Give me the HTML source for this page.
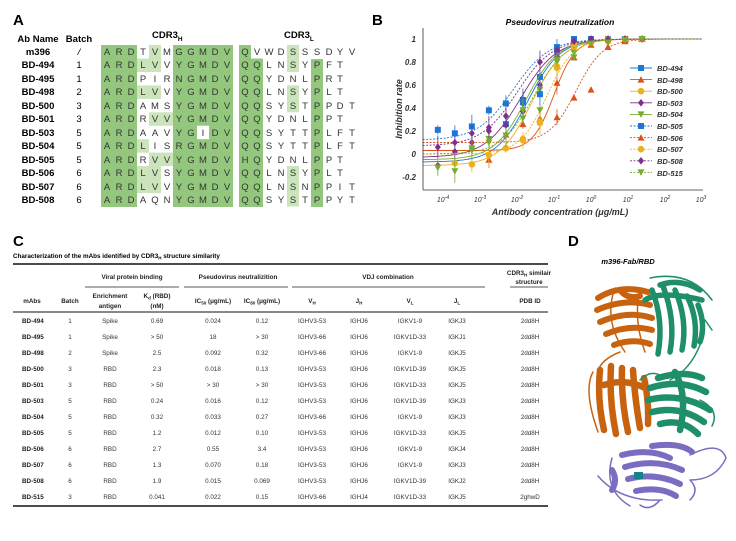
<!DOCTYPE html>
<html><head><meta charset="utf-8"><style>
html,body{margin:0;padding:0;background:#fff;}
svg{display:block;font-family:"Liberation Sans",Arial,sans-serif;}
</style></head><body>
<svg id="s" width="736" height="541" viewBox="0 0 736 541" xmlns="http://www.w3.org/2000/svg">
<rect width="736" height="541" fill="#fff"/>
<!-- Panel A -->
<text x="13" y="25" font-size="15" font-weight="bold">A</text>
<text x="38" y="42" font-size="9.5" font-weight="bold" text-anchor="middle">Ab Name</text>
<text x="79" y="42" font-size="9.5" font-weight="bold" text-anchor="middle">Batch</text>
<text x="152" y="38" font-size="9.5" font-weight="bold">CDR3<tspan font-size="6.5" dy="3">H</tspan></text>
<text x="284" y="38" font-size="9.5" font-weight="bold">CDR3<tspan font-size="6.5" dy="3">L</tspan></text>
<g fill="#93c77e">
<rect x="101" y="45" width="36" height="162"/>
<rect x="173" y="45" width="60" height="162"/>
<rect x="239" y="45" width="24" height="162"/>
<rect x="311" y="59" width="12" height="148"/>
</g>
<g fill="#cbe4bb">
<rect x="149" y="45" width="12" height="13.5"/>
<rect x="137" y="58.5" width="24" height="13.5"/>
<rect x="137" y="85.4" width="24" height="13.5"/>
<rect x="149" y="112.3" width="24" height="13.5"/>
<rect x="137" y="139.2" width="12" height="13.5"/>
<rect x="149" y="152.6" width="24" height="13.5"/>
<rect x="137" y="166" width="24" height="13.5"/>
<rect x="137" y="179.5" width="24" height="13.5"/>
<rect x="287" y="45" width="12" height="13.5"/>
<rect x="287" y="58.5" width="12" height="13.5"/>
<rect x="287" y="85.4" width="12" height="13.5"/>
<rect x="287" y="98.8" width="12" height="13.5"/>
<rect x="287" y="166" width="12" height="13.5"/>
<rect x="287" y="179.5" width="12" height="13.5"/>
<rect x="287" y="193" width="12" height="13.5"/>
</g>
<rect x="197" y="125.7" width="12" height="13.5" fill="#fff"/>
<rect x="251" y="45" width="12" height="13.5" fill="#fff"/>
<g font-size="9.5" font-weight="bold" text-anchor="middle">
<text x="38" y="55">m396</text><text x="38" y="68">BD-494</text><text x="38" y="82">BD-495</text><text x="38" y="95">BD-498</text><text x="38" y="109">BD-500</text><text x="38" y="122">BD-501</text><text x="38" y="136">BD-503</text><text x="38" y="149">BD-504</text><text x="38" y="163">BD-505</text><text x="38" y="176">BD-506</text><text x="38" y="190">BD-507</text><text x="38" y="203">BD-508</text>
</g>
<g font-size="9.5" text-anchor="middle">
<text x="79" y="55" font-style="italic">/</text><text x="79" y="68">1</text><text x="79" y="82">1</text><text x="79" y="95">2</text><text x="79" y="109">3</text><text x="79" y="122">3</text><text x="79" y="136">5</text><text x="79" y="149">5</text><text x="79" y="163">5</text><text x="79" y="176">6</text><text x="79" y="190">6</text><text x="79" y="203">6</text>
</g>
<g font-size="9.5" text-anchor="middle" fill="#333">
<text x="107 119 131 143 155 167 179 191 203 215 227" y="55">ARDTVMGGMDV</text>
<text x="107 119 131 143 155 167 179 191 203 215 227" y="68">ARDLVVYGMDV</text>
<text x="107 119 131 143 155 167 179 191 203 215 227" y="82">ARDPIRNGMDV</text>
<text x="107 119 131 143 155 167 179 191 203 215 227" y="95">ARDLVVYGMDV</text>
<text x="107 119 131 143 155 167 179 191 203 215 227" y="109">ARDAMSYGMDV</text>
<text x="107 119 131 143 155 167 179 191 203 215 227" y="122">ARDRVVYGMDV</text>
<text x="107 119 131 143 155 167 179 191 203 215 227" y="136">ARDAAVYGIDV</text>
<text x="107 119 131 143 155 167 179 191 203 215 227" y="149">ARDLISRGMDV</text>
<text x="107 119 131 143 155 167 179 191 203 215 227" y="163">ARDRVVYGMDV</text>
<text x="107 119 131 143 155 167 179 191 203 215 227" y="176">ARDLVSYGMDV</text>
<text x="107 119 131 143 155 167 179 191 203 215 227" y="190">ARDLVVYGMDV</text>
<text x="107 119 131 143 155 167 179 191 203 215 227" y="203">ARDAQNYGMDV</text>
<text x="245 257 269 281 293 305 317 329 340 352" y="55">QVWDSSSDYV</text>
<text x="245 257 269 281 293 305 317 329 340" y="68">QQLNSYPFT</text>
<text x="245 257 269 281 293 305 317 329 340" y="82">QQYDNLPRT</text>
<text x="245 257 269 281 293 305 317 329 340" y="95">QQLNSYPLT</text>
<text x="245 257 269 281 293 305 317 329 340 352" y="109">QQSYSTPPDT</text>
<text x="245 257 269 281 293 305 317 329 340" y="122">QQYDNLPPT</text>
<text x="245 257 269 281 293 305 317 329 340 352" y="136">QQSYTTPLFT</text>
<text x="245 257 269 281 293 305 317 329 340 352" y="149">QQSYTTPLFT</text>
<text x="245 257 269 281 293 305 317 329 340" y="163">HQYDNLPPT</text>
<text x="245 257 269 281 293 305 317 329 340" y="176">QQLNSYPLT</text>
<text x="245 257 269 281 293 305 317 329 340 352" y="190">QQLNSNPPIT</text>
<text x="245 257 269 281 293 305 317 329 340 352" y="203">QQSYSTPPYT</text>
</g>

<!-- Panel B -->
<text x="372" y="25" font-size="15" font-weight="bold">B</text>
<text x="560" y="25" font-size="8.5" font-weight="bold" font-style="italic" text-anchor="middle">Pseudovirus neutralization</text>
<g id="plot"></g>
<line x1="423" y1="28" x2="423" y2="190" stroke="#333" stroke-width="0.8"/>
<line x1="423" y1="190" x2="703" y2="190" stroke="#333" stroke-width="0.8"/>
<g font-size="8" font-weight="bold" font-style="italic" text-anchor="end" fill="#333">
<text x="416" y="42">1</text><text x="416" y="65">0.8</text><text x="416" y="88">0.6</text><text x="416" y="111">0.4</text><text x="416" y="134">0.2</text><text x="416" y="157">0</text><text x="416" y="180">-0.2</text>
</g>
<g font-size="7" font-style="italic" text-anchor="middle" fill="#333">
<text x="443" y="202">10<tspan font-size="5" dy="-3">-4</tspan></text>
<text x="480" y="202">10<tspan font-size="5" dy="-3">-3</tspan></text>
<text x="517" y="202">10<tspan font-size="5" dy="-3">-2</tspan></text>
<text x="554" y="202">10<tspan font-size="5" dy="-3">-1</tspan></text>
<text x="591" y="202">10<tspan font-size="5" dy="-3">0</tspan></text>
<text x="628" y="202">10<tspan font-size="5" dy="-3">1</tspan></text>
<text x="665" y="202">10<tspan font-size="5" dy="-3">2</tspan></text>
<text x="701" y="202">10<tspan font-size="5" dy="-3">3</tspan></text>
</g>
<text x="560" y="215" font-size="9" font-weight="bold" font-style="italic" text-anchor="middle" fill="#333">Antibody concentration (μg/mL)</text>
<text transform="translate(402,109) rotate(-90)" font-size="9" font-weight="bold" font-style="italic" text-anchor="middle" fill="#333">Inhibition rate</text>
<g id="legend" font-size="7.5" font-weight="bold" font-style="italic" fill="#333">
<text x="657" y="71">BD-494</text><text x="657" y="83">BD-498</text><text x="657" y="94">BD-500</text><text x="657" y="106">BD-503</text><text x="657" y="117">BD-504</text><text x="657" y="129">BD-505</text><text x="657" y="141">BD-506</text><text x="657" y="152">BD-507</text><text x="657" y="164">BD-508</text><text x="657" y="176">BD-515</text>
</g>

<!-- Panel C -->
<text x="13" y="246" font-size="15" font-weight="bold">C</text>
<text x="13" y="258" font-size="6.3" font-weight="bold">Characterization of the mAbs identified by CDR3<tspan font-size="4.5" dy="1.5">H</tspan><tspan dy="-1.5"> structure similarity</tspan></text>
<line x1="13" y1="264" x2="548" y2="264" stroke="#111" stroke-width="1.6"/>
<g stroke="#222" stroke-width="0.8">
<line x1="85" y1="287" x2="179" y2="287"/><line x1="184" y1="287" x2="288" y2="287"/><line x1="292" y1="287" x2="485" y2="287"/><line x1="510" y1="287" x2="548" y2="287"/>
</g>
<line x1="13" y1="312" x2="548" y2="312" stroke="#111" stroke-width="1"/>
<line x1="13" y1="506" x2="548" y2="506" stroke="#111" stroke-width="1.6"/>
<g font-size="6.3" font-weight="bold" text-anchor="middle" fill="#222">
<text x="132" y="279">Viral protein binding</text>
<text x="238" y="279">Pseudovirus neutralizition</text>
<text x="388" y="279">VDJ combination</text>
<text x="529" y="275">CDR3<tspan font-size="4.5" dy="1.5">H</tspan><tspan dy="-1.5"> similair</tspan></text>
<text x="529" y="284">structure</text>
<text x="32" y="303">mAbs</text><text x="70" y="303">Batch</text>
<text x="110" y="298">Enrichment</text><text x="110" y="308">antigen</text>
<text x="157" y="298">K<tspan font-size="4.5" dy="1.5">d</tspan><tspan dy="-1.5"> (RBD)</tspan></text><text x="157" y="308">(nM)</text>
<text x="213" y="303">IC<tspan font-size="4.5" dy="1.5">50</tspan><tspan dy="-1.5"> (μg/mL)</tspan></text>
<text x="262" y="303">IC<tspan font-size="4.5" dy="1.5">80</tspan><tspan dy="-1.5"> (μg/mL)</tspan></text>
<text x="312" y="303">V<tspan font-size="4.5" dy="1.5">H</tspan></text>
<text x="359" y="303">J<tspan font-size="4.5" dy="1.5">H</tspan></text>
<text x="410" y="303">V<tspan font-size="4.5" dy="1.5">L</tspan></text>
<text x="457" y="303">J<tspan font-size="4.5" dy="1.5">L</tspan></text>
<text x="530" y="303">PDB ID</text>
</g>
<g font-size="6.3" font-weight="bold" fill="#222">
<text x="22" y="323">BD-494</text><text x="22" y="339">BD-495</text><text x="22" y="355">BD-498</text><text x="22" y="371">BD-500</text><text x="22" y="387">BD-501</text><text x="22" y="403">BD-503</text><text x="22" y="419">BD-504</text><text x="22" y="435">BD-505</text><text x="22" y="451">BD-506</text><text x="22" y="467">BD-507</text><text x="22" y="483">BD-508</text><text x="22" y="499">BD-515</text>
</g>
<g font-size="6.3" fill="#333" text-anchor="middle">
<text y="323"><tspan x="70">1</tspan><tspan x="110">Spike</tspan><tspan x="157">0.69</tspan><tspan x="213">0.024</tspan><tspan x="262">0.12</tspan><tspan x="312">IGHV3-53</tspan><tspan x="359">IGHJ6</tspan><tspan x="410">IGKV1-9</tspan><tspan x="457">IGKJ3</tspan><tspan x="530">2dd8H</tspan></text>
<text y="339"><tspan x="70">1</tspan><tspan x="110">Spike</tspan><tspan x="157">&gt; 50</tspan><tspan x="213">18</tspan><tspan x="262">&gt; 30</tspan><tspan x="312">IGHV3-66</tspan><tspan x="359">IGHJ6</tspan><tspan x="410">IGKV1D-33</tspan><tspan x="457">IGKJ1</tspan><tspan x="530">2dd8H</tspan></text>
<text y="355"><tspan x="70">2</tspan><tspan x="110">Spike</tspan><tspan x="157">2.5</tspan><tspan x="213">0.092</tspan><tspan x="262">0.32</tspan><tspan x="312">IGHV3-66</tspan><tspan x="359">IGHJ6</tspan><tspan x="410">IGKV1-9</tspan><tspan x="457">IGKJ5</tspan><tspan x="530">2dd8H</tspan></text>
<text y="371"><tspan x="70">3</tspan><tspan x="110">RBD</tspan><tspan x="157">2.3</tspan><tspan x="213">0.018</tspan><tspan x="262">0.13</tspan><tspan x="312">IGHV3-53</tspan><tspan x="359">IGHJ6</tspan><tspan x="410">IGKV1D-39</tspan><tspan x="457">IGKJ5</tspan><tspan x="530">2dd8H</tspan></text>
<text y="387"><tspan x="70">3</tspan><tspan x="110">RBD</tspan><tspan x="157">&gt; 50</tspan><tspan x="213">&gt; 30</tspan><tspan x="262">&gt; 30</tspan><tspan x="312">IGHV3-53</tspan><tspan x="359">IGHJ6</tspan><tspan x="410">IGKV1D-33</tspan><tspan x="457">IGKJ5</tspan><tspan x="530">2dd8H</tspan></text>
<text y="403"><tspan x="70">5</tspan><tspan x="110">RBD</tspan><tspan x="157">0.24</tspan><tspan x="213">0.016</tspan><tspan x="262">0.12</tspan><tspan x="312">IGHV3-53</tspan><tspan x="359">IGHJ6</tspan><tspan x="410">IGKV1D-39</tspan><tspan x="457">IGKJ3</tspan><tspan x="530">2dd8H</tspan></text>
<text y="419"><tspan x="70">5</tspan><tspan x="110">RBD</tspan><tspan x="157">0.32</tspan><tspan x="213">0.033</tspan><tspan x="262">0.27</tspan><tspan x="312">IGHV3-66</tspan><tspan x="359">IGHJ6</tspan><tspan x="410">IGKV1-9</tspan><tspan x="457">IGKJ3</tspan><tspan x="530">2dd8H</tspan></text>
<text y="435"><tspan x="70">5</tspan><tspan x="110">RBD</tspan><tspan x="157">1.2</tspan><tspan x="213">0.012</tspan><tspan x="262">0.10</tspan><tspan x="312">IGHV3-53</tspan><tspan x="359">IGHJ6</tspan><tspan x="410">IGKV1D-33</tspan><tspan x="457">IGKJ5</tspan><tspan x="530">2dd8H</tspan></text>
<text y="451"><tspan x="70">6</tspan><tspan x="110">RBD</tspan><tspan x="157">2.7</tspan><tspan x="213">0.55</tspan><tspan x="262">3.4</tspan><tspan x="312">IGHV3-53</tspan><tspan x="359">IGHJ6</tspan><tspan x="410">IGKV1-9</tspan><tspan x="457">IGKJ4</tspan><tspan x="530">2dd8H</tspan></text>
<text y="467"><tspan x="70">6</tspan><tspan x="110">RBD</tspan><tspan x="157">1.3</tspan><tspan x="213">0.070</tspan><tspan x="262">0.18</tspan><tspan x="312">IGHV3-53</tspan><tspan x="359">IGHJ6</tspan><tspan x="410">IGKV1-9</tspan><tspan x="457">IGKJ3</tspan><tspan x="530">2dd8H</tspan></text>
<text y="483"><tspan x="70">6</tspan><tspan x="110">RBD</tspan><tspan x="157">1.9</tspan><tspan x="213">0.015</tspan><tspan x="262">0.069</tspan><tspan x="312">IGHV3-53</tspan><tspan x="359">IGHJ6</tspan><tspan x="410">IGKV1D-39</tspan><tspan x="457">IGKJ2</tspan><tspan x="530">2dd8H</tspan></text>
<text y="499"><tspan x="70">3</tspan><tspan x="110">RBD</tspan><tspan x="157">0.041</tspan><tspan x="213">0.022</tspan><tspan x="262">0.15</tspan><tspan x="312">IGHV3-66</tspan><tspan x="359">IGHJ4</tspan><tspan x="410">IGKV1D-33</tspan><tspan x="457">IGKJ5</tspan><tspan x="530">2ghwD</tspan></text>
</g>

<!-- Panel D -->
<text x="568" y="246" font-size="15" font-weight="bold">D</text>
<text x="628" y="264" font-size="7.5" font-weight="bold" font-style="italic" text-anchor="middle">m396-Fab/RBD</text>
<g fill="none" stroke-linecap="round" stroke-linejoin="round">
<g stroke="#c8620f">
<path d="M598 298 Q620 284 648 292 M597 310 Q625 298 650 305 M600 322 Q628 310 652 318 M606 334 Q630 324 652 330 M614 345 Q632 338 650 344 M620 290 Q628 300 640 296" stroke-width="6"/>
<path d="M615 288 Q603 320 625 352 M640 288 Q633 320 645 352 M593 372 Q583 390 598 432 M620 352 Q600 360 598 372" stroke-width="1.5"/>
<path d="M600 370 Q597 400 604 430 M611 366 Q609 400 616 434 M622 368 Q621 400 628 432 M633 370 Q635 400 640 428 M644 378 Q649 400 648 424 M604 385 Q625 378 645 388" stroke-width="6.5"/>
</g>
<g stroke="#1e8f6a">
<path d="M652 290 Q664 320 658 354 M663 286 Q676 320 670 352 M675 290 Q688 320 682 350 M687 296 Q699 320 694 346 M698 305 Q706 325 700 342 M645 300 Q660 290 702 300 M660 285 Q680 278 700 290" stroke-width="5.5"/>
<path d="M650 278 Q690 270 712 300 M700 345 Q690 370 670 380 M705 320 L712 330" stroke-width="1.5"/>
<path d="M650 388 Q680 378 706 392 M648 400 Q680 392 710 410 M652 412 Q680 405 704 422 M660 424 Q682 418 698 434 M658 378 Q685 370 702 378 M675 372 Q688 395 680 430" stroke-width="6.5"/>
<path d="M700 400 Q720 410 712 426 M640 380 Q650 370 660 375" stroke-width="1.5"/>
</g>
<g stroke="#7a6cc0">
<path d="M622 455 Q650 448 670 458 M625 467 Q655 458 682 470 M628 479 Q655 472 680 484 M636 491 Q660 486 676 496 M652 446 Q680 442 692 452 M612 470 Q618 480 612 490" stroke-width="6"/>
<path d="M612 458 Q603 490 630 506 M690 455 Q720 440 726 458 Q716 480 690 480 M598 476 Q620 502 662 500 M660 500 Q650 512 640 505 M690 480 Q700 490 690 500" stroke-width="1.5"/>
</g>
<rect x="634" y="472" width="9" height="7" fill="#1a7f8c" stroke="none"/>
</g>

<script>
(function(){
var NS="http://www.w3.org/2000/svg";
var g=document.getElementById('plot'),lg=document.getElementById('legend');
function X(l){return 517+37*(l+2);}
function Y(v){return 154-115*v;}
var S=[
["#1f77d4","s",0,-0.07,-1.7,1.0,[0.21,0.18,0.24,0.38,0.44,0.47,0.67,0.93,1,1,1,1,1],12],
["#d9541a","t",0,0.03,-1.0,1.5,[null,null,null,-0.05,0.17,0.26,0.31,0.62,0.84,0.95,0.93,0.98,1],12],
["#edb120","c",0,-0.1,-1.6,1.0,[null,-0.08,-0.09,-0.01,0.05,0.12,0.27,0.75,0.93,0.97,0.98,1,1],12],
["#7e2f8e","d",0,-0.03,-1.9,0.9,[-0.1,0.02,0.1,0.2,0.33,0.44,0.6,0.85,0.97,1,1,1,1],12],
["#77ac30","v",0,-0.05,-1.75,1.0,[-0.12,-0.15,0.03,0.13,0.16,0.31,0.56,0.8,0.88,0.97,0.98,1,1],12],
["#1f77d4","s",1,0.12,-2.1,0.9,[null,null,null,null,0.26,0.45,0.52,0.9,1,1,1,1,1],12],
["#d9541a","t",1,0.1,-0.4,1.2,[null,null,null,null,null,null,null,0.32,0.49,0.56,0.93,0.99,1],12],
["#edb120","c",1,0.0,-1.2,1.2,[null,null,null,null,null,0.13,0.28,0.76,0.95,0.97,1,1,1],12],
["#7e2f8e","d",1,0.07,-2.0,0.9,[0.06,0.1,0.18,0.23,0.25,0.37,0.8,0.9,0.98,1,1,1,1],12],
["#77ac30","v",1,0.0,-1.55,1.0,[null,null,0.05,0.1,0.16,0.38,0.38,0.82,0.84,0.96,0.97,0.99,1],12]];
function el(n,a,p){var e=document.createElementNS(NS,n);for(var k in a)e.setAttribute(k,a[k]);(p||g).appendChild(e);return e;}
function mk(t,x,y,c,p){
 var r=3;
 if(t=="s")el("rect",{x:x-r,y:y-r,width:2*r,height:2*r,fill:c},p);
 else if(t=="c")el("circle",{cx:x,cy:y,r:r+0.3,fill:c},p);
 else if(t=="t")el("polygon",{points:(x)+","+(y-r-0.5)+" "+(x-r-0.5)+","+(y+r)+" "+(x+r+0.5)+","+(y+r),fill:c},p);
 else if(t=="v")el("polygon",{points:(x)+","+(y+r+0.5)+" "+(x-r-0.5)+","+(y-r)+" "+(x+r+0.5)+","+(y-r),fill:c},p);
 else el("polygon",{points:x+","+(y-r-0.8)+" "+(x+r)+","+y+" "+x+","+(y+r+0.8)+" "+(x-r)+","+y,fill:c},p);
}
S.forEach(function(s,i){
 var d="";
 for(var l=-4.55;l<=3.001;l+=0.05){var v=s[3]+(1-s[3])/(1+Math.pow(10,(s[4]-l)*s[5]));d+=(d?"L":"M")+X(l).toFixed(1)+" "+Y(v).toFixed(1);}
 el("path",{d:d,fill:"none",stroke:s[0],"stroke-width":0.9,"stroke-dasharray":s[2]?"2,1.5":"none"});
 s[6].forEach(function(v,k){if(v===null)return;var x=X(-4.14+0.46*k),y=Y(v);
  var e=(k<8?0.04+0.03*((i+k)%3):0.015);
  el("line",{x1:x,y1:Y(v+e),x2:x,y2:Y(v-e),stroke:s[0],"stroke-width":0.8});
  mk(s[1],x,y,s[0]);});
 var ly=68+11.6*i;
 el("line",{x1:630,y1:ly,x2:652,y2:ly,stroke:s[0],"stroke-width":0.9,"stroke-dasharray":s[2]?"2,1.5":"none"},lg);
 mk(s[1],641,ly,s[0],lg);
});
})();
</script>
</svg>
</body></html>
